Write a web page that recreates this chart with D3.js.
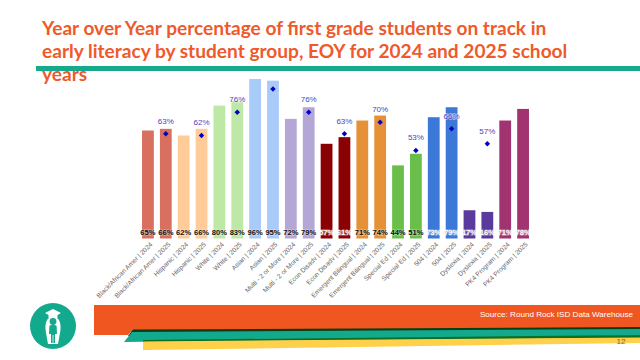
<!DOCTYPE html>
<html>
<head>
<meta charset="utf-8">
<script src="https://cdn.jsdelivr.net/npm/d3@7"></script>
<style>
  html, body { margin: 0; padding: 0; background: #fff; }
  svg { display: block; }
</style>
</head>
<body>
<div id="chart-area"></div>
<script>
// Chart data
const groups = [
  "Black/African Amer", "Hispanic", "White", "Asian", "Multi - 2 or More", "Econ Disadv",
  "Emergent Bilingual", "Special Ed", "504", "Dyslexia", "PK4 Program",
];
const years = ["2024", "2025"];
const barValues = [65, 66, 62, 66, 80, 83, 96, 95, 72, 79, 57, 61, 71, 74, 44, 51, 73, 79, 17, 16, 71, 78];
const barLabels = ["65%", "66%", "62%", "66%", "80%", "83%", "96%", "95%", "72%", "79%", "57%", "61%", "71%", "74%", "44%", "51%", "73%", "79%", "17%", "16%", "71%", "78%"];
const targetValues = [null, 63, null, 62, null, 76, null, 90, null, 76, null, 63, null, 70, null, 53, null, 66, null, 57, null, null];
const targetLabels = [null, "63%", null, "62%", null, "76%", null, null, null, "76%", null, "63%", null, "70%", null, "53%", null, "66%", null, "57%", null, null];
const groupColors = ["#D9705F", "#FFCC99", "#BDE8A5", "#A9CBFA", "#B4A7D6", "#8B0000", "#E69138", "#6ABF4B", "#3C78D8", "#5B3A9E", "#A03370"];
const darkGroups = ["Econ Disadv", "504", "Dyslexia", "PK4 Program"];
const titleLines = [
  "Year over Year percentage of first grade students on track in",
  "early literacy by student group, EOY for 2024 and 2025 school",
  "years",
];

const categories = groups.flatMap((g) => years.map((y) => `${g} | ${y}`));
const groupOf = (i) => groups[Math.floor(i / 2)];

// Layout
const width = 640;
const height = 360;
const plot = { left: 139, right: 532, top: 79, bottom: 238.5 };

const svg = d3.select("#chart-area").append("svg")
  .attr("width", width)
  .attr("height", height);

const xScale = d3.scaleBand()
  .domain(categories)
  .range([plot.left, plot.right])
  .paddingInner(0.34)
  .paddingOuter(0.17);

const yScale = d3.scaleLinear()
  .domain([0, 96])
  .range([plot.bottom, plot.top]);

const colorScale = d3.scaleOrdinal().domain(groups).range(groupColors);

// Footer bands
const bands = [
  { fill: "#0B3D14", points: "133,329 640,326 640,332 128,336" },
  { fill: "#F0561F", points: "94,305 640,305 640,327 133,329.5 128,335 94,335" },
  { fill: "#12A98C", points: "132,332 640,329 640,335.5 124,342" },
  { fill: "#0E6E22", points: "143,340 640,335 640,338 143,342" },
  { fill: "#FFD04A", points: "143,341.5 640,337.5 640,343 143,350" },
];
svg.selectAll(".band")
  .data(bands)
  .enter()
  .append("polygon")
  .attr("class", "band")
  .attr("points", (d) => d.points)
  .attr("fill", (d) => d.fill);

svg.append("text")
  .attr("x", 633)
  .attr("y", 317)
  .attr("text-anchor", "end")
  .style("font-family", "'Liberation Sans', sans-serif")
  .style("font-size", "8.1px")
  .style("fill", "#fff")
  .text("Source: Round Rock ISD Data Warehouse");

svg.append("text")
  .attr("x", 621)
  .attr("y", 343.5)
  .attr("text-anchor", "middle")
  .style("font-family", "'Liberation Sans', sans-serif")
  .style("font-size", "8px")
  .style("fill", "#5f6a55")
  .text("12");

// Logo
const logo = svg.append("g").attr("transform", "translate(53, 326)");
logo.append("circle").attr("r", 23).attr("fill", "#12A98C");
logo.append("path")
  .attr("fill", "#fff")
  .attr("d", "M0,-17 L8,-13 L4.5,-11 L4.5,-8 L-4.5,-8 L-4.5,-11 L-8,-13 Z");
logo.append("path")
  .attr("fill", "#fff")
  .attr("d", "M-4,-8 C-8,-5 -8,1 -7,7 L-5,18 L5,18 L7,7 C8,1 8,-5 4,-8 Z");
logo.append("circle").attr("cy", -4.5).attr("r", 3.4).attr("fill", "#12A98C");
logo.append("path")
  .attr("fill", "#12A98C")
  .attr("d", "M-3.6,0 C-4,-1.5 4,-1.5 3.6,0 L4,8 L2,8 L2,17 L0.4,17 L0.4,9 L-0.4,9 L-0.4,17 L-2,17 L-2,8 L-4,8 Z");

// Title and rule
svg.append("rect")
  .attr("x", 36)
  .attr("y", 66)
  .attr("width", 604)
  .attr("height", 5)
  .attr("fill", "#17A88E");

svg.selectAll(".title-line")
  .data(titleLines)
  .enter()
  .append("text")
  .attr("class", "title-line")
  .attr("x", 42)
  .attr("y", (d, i) => 35 + i * 23.2)
  .style("font-family", "Lato, sans-serif")
  .style("font-weight", 700)
  .style("font-size", "19.1px")
  .style("fill", "#EE5A2B")
  .text((d) => d);

// Bars
svg.selectAll(".bar")
  .data(barValues)
  .enter()
  .append("rect")
  .attr("class", "bar")
  .attr("x", (d, i) => xScale(categories[i]))
  .attr("y", (d) => yScale(d))
  .attr("width", xScale.bandwidth())
  .attr("height", (d) => yScale(0) - yScale(d))
  .attr("fill", (d, i) => colorScale(groupOf(i)));

// X axis
const xAxis = svg.append("g")
  .attr("class", "xaxis")
  .attr("transform", `translate(0, ${plot.bottom})`)
  .call(d3.axisBottom(xScale).tickSize(0).tickPadding(4));

xAxis.select(".domain").remove();

xAxis.selectAll(".tick text")
  .attr("text-anchor", "end")
  .attr("dx", "-1px")
  .attr("dy", "4px")
  .attr("transform", "rotate(-45)")
  .style("font-family", "'Liberation Sans', sans-serif")
  .style("font-size", "6.6px")
  .style("fill", "#666");

// Value labels at the foot of each bar
svg.selectAll(".value-label")
  .data(barLabels)
  .enter()
  .append("text")
  .attr("class", "value-label")
  .attr("x", (d, i) => xScale(categories[i]) + xScale.bandwidth() / 2)
  .attr("y", plot.bottom - 4)
  .attr("text-anchor", "middle")
  .style("font-family", "'Liberation Sans', sans-serif")
  .style("font-size", "7.6px")
  .style("font-weight", 700)
  .style("paint-order", "stroke")
  .style("stroke", "rgba(255,255,255,0.35)")
  .style("stroke-width", "1.5px")
  .style("fill", (d, i) => (darkGroups.includes(groupOf(i)) ? "#fff" : "#111"))
  .text((d) => d);

// Target markers
const targets = targetValues
  .map((value, i) => ({ value, label: targetLabels[i], category: categories[i] }))
  .filter((d) => d.value !== null);

svg.selectAll(".target")
  .data(targets)
  .enter()
  .append("path")
  .attr("class", "target")
  .attr("d", d3.symbol(d3.symbolSquare, 15))
  .attr("transform", (d) => `translate(${xScale(d.category) + xScale.bandwidth() / 2}, ${yScale(d.value)}) rotate(45)`)
  .attr("fill", "#0000C8");

svg.selectAll(".target-label")
  .data(targets.filter((d) => d.label))
  .enter()
  .append("text")
  .attr("class", "target-label")
  .attr("x", (d) => xScale(d.category) + xScale.bandwidth() / 2)
  .attr("y", (d) => yScale(d.value) - 10)
  .attr("text-anchor", "middle")
  .style("font-family", "'Liberation Sans', sans-serif")
  .style("font-size", "8px")
  .style("paint-order", "stroke")
  .style("stroke", "rgba(255,255,255,0.6)")
  .style("stroke-width", "1.5px")
  .style("fill", "#4B3FC4")
  .text((d) => d.label);
</script>
</body>
</html>
